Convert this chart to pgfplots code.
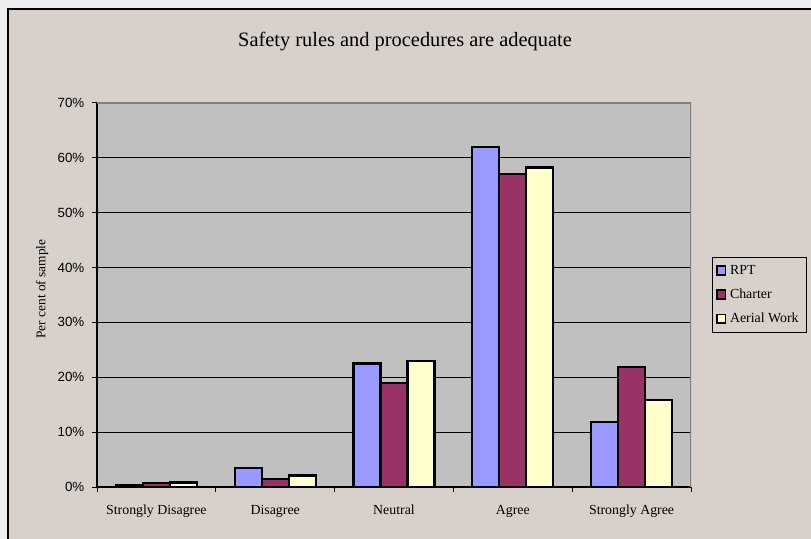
\documentclass[border=0pt]{standalone}
\usepackage{pgfplots}
\pgfplotsset{compat=1.18}
\usepackage{fontspec}
\setmainfont{Liberation Serif}
\newfontfamily\arialfont{Liberation Sans}

\definecolor{chartbg}{HTML}{D8D0CA}
\definecolor{outside}{HTML}{EDEDED}
\definecolor{plotbg}{HTML}{C0C0C0}
\definecolor{rpt}{HTML}{9999FF}
\definecolor{charter}{HTML}{993366}
\definecolor{aerial}{HTML}{FFFFCC}
\definecolor{frame}{HTML}{808080}

% Survey shares in per cent, categories at x = 0..4
\pgfplotstableread{
x  rpt  charter  aerial
0  0.3  0.7      0.8
1  3.4  1.4      2.1
2  22.5 19.0     23.0
3  62.0 57.0     58.2
4  11.9 21.8     15.9
}\safetydata

\begin{document}
\begin{tikzpicture}
% canvas: 811 x 539 px at 0.75pt per px
\useasboundingbox (0,0) rectangle (608.25pt,404.25pt);
\fill[outside] (0,0) rectangle (608.25pt,404.25pt);
\fill[chartbg] (6pt,0) rectangle (608.25pt,397.5pt);
\draw[black,line width=1.1pt] (6pt,0) -- (6pt,397.5pt) -- (608.25pt,397.5pt);

\node[font=\fontsize{15.3}{17}\selectfont] at (303.75pt,372.75pt) {Safety rules and procedures are adequate};

\begin{axis}[
  at={(72.75pt,39pt)}, anchor=south west,
  scale only axis,
  width=445.5pt, height=288.2pt,
  ybar=0pt, bar width=20.25pt,
  xmin=-0.5, xmax=4.5,
  ymin=0, ymax=70,
  axis x line*=bottom, axis y line*=left,
  axis line style={black,line width=0.9pt},
  axis background/.style={fill=plotbg},
  tick align=outside,
  xtick={0,1,2,3,4},
  xticklabels={Strongly Disagree,Disagree,Neutral,Agree,Strongly Agree},
  major x tick style={draw=none},
  minor xtick={-0.5,0.5,1.5,2.5,3.5,4.5},
  minor x tick style={black,line width=0.6pt},
  minor tick length=4pt,
  xticklabel style={font=\fontsize{10.4}{12}\selectfont, yshift=-6pt},
  ytick={0,10,...,70},
  yticklabels={0\%,10\%,20\%,30\%,40\%,50\%,60\%,70\%},
  yticklabel style={font=\arialfont\fontsize{10}{12}\selectfont, xshift=-2pt},
  major tick length=4pt,
  major y tick style={black,line width=0.6pt},
  ymajorgrids,
  major grid style={black,line width=0.6pt},
  ylabel={Per cent of sample},
  ylabel style={font=\fontsize{10}{12}\selectfont, at={(axis description cs:-0.0926,0.515)}, anchor=center},
  every axis plot/.append style={draw=black,line width=1.7pt},
  legend image code/.code={\draw[#1,line width=1.2pt] (0pt,-3.2pt) rectangle (6.4pt,3.2pt);},
  legend style={at={(axis description cs:1.035,0.598)}, anchor=north west,
    draw=black, line width=0.6pt, fill=chartbg,
    font=\fontsize{10.4}{12}\selectfont,
    inner xsep=3pt, inner ysep=3.5pt, row sep=5.5pt,
    nodes={inner xsep=2.8pt}},
  legend cell align=left,
]
\addplot[fill=rpt] table[x=x,y=rpt] {\safetydata};
\addplot[fill=charter] table[x=x,y=charter] {\safetydata};
\addplot[fill=aerial] table[x=x,y=aerial] {\safetydata};
\legend{RPT,Charter,Aerial Work}
\draw[frame,line width=1.4pt] (rel axis cs:0,1) -- (rel axis cs:1,1) -- (rel axis cs:1,0);
\end{axis}
\end{tikzpicture}
\end{document}
